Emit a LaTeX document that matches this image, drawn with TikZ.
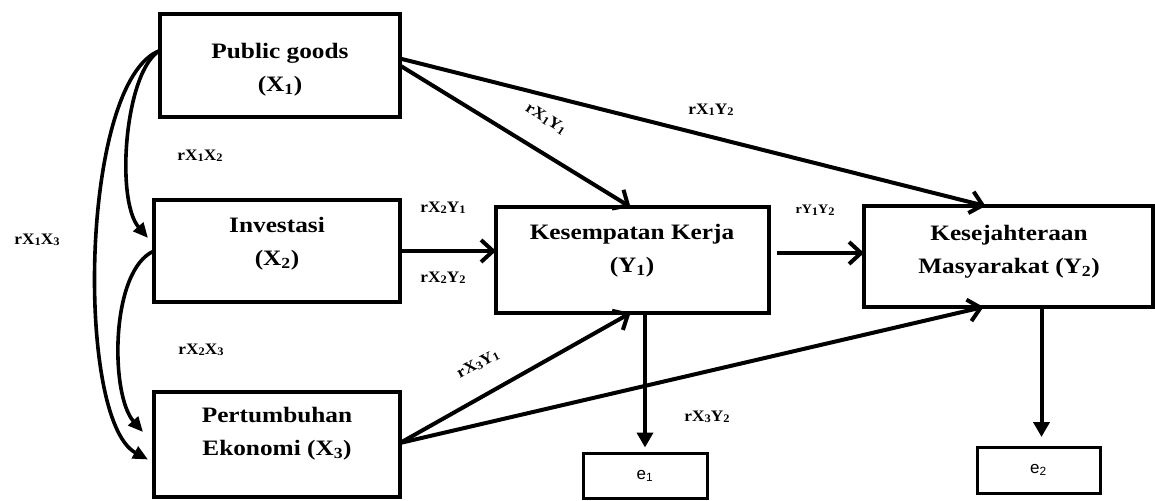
\documentclass[tikz,border=0pt]{standalone}
\usepackage{fontspec}
\newfontfamily\bxfont[FakeStretch=1.15]{Liberation Serif}
\newfontfamily\lbfont[FakeStretch=1.08]{Liberation Serif}
\newfontfamily\efont{Liberation Sans}
\newcommand\lsub[1]{\raisebox{-1.5pt}{\fontsize{11.5}{12}\selectfont #1}}
\usetikzlibrary{arrows.meta}
\tikzset{
  bx/.style={draw, line width=3.8pt, inner sep=0pt, outer sep=0pt},
  ebx/.style={draw, line width=3pt, inner sep=0pt, outer sep=0pt, minimum width=124pt, minimum height=45pt, font=\efont\fontsize{17}{19}\selectfont},
  btxt/.style={font=\bxfont\bfseries\fontsize{22}{33}\selectfont, align=center, inner sep=0pt},
  lbl/.style={font=\lbfont\bfseries\fontsize{16}{18}\selectfont, inner sep=1pt},
  rlbl/.style={font=\lbfont\bfseries\fontsize{16}{18}\selectfont, inner sep=1pt},
  slbl/.style={font=\lbfont\bfseries\fontsize{13}{15}\selectfont, inner sep=1pt},
  conn/.style={line width=4pt, -{Straight Barb[length=12pt,width=22pt,line width=4pt]}},
  econn/.style={line width=4pt, -{Triangle[length=15pt,width=16pt]}},
  curv/.style={line width=3.6pt, -{Triangle[length=15pt,width=13pt]}}
}
\begin{document}
\begin{tikzpicture}[x=1pt,y=-1pt]
\useasboundingbox (0,0) rectangle (1155,500);
% boxes
\node[bx, minimum width=240pt, minimum height=103pt] (x1) at (280,65.5) {};
\node[bx, minimum width=246pt, minimum height=102pt] (x2) at (277,251) {};
\node[bx, minimum width=246pt, minimum height=105pt] (x3) at (277,444.5) {};
\node[bx, minimum width=273pt, minimum height=106pt] (y1) at (632.5,260) {};
\node[bx, minimum width=289pt, minimum height=101pt] (y2) at (1008.5,256.5) {};
\node[ebx] (e1) at (645,476) {e\textsubscript{1}};
\node[ebx, minimum width=123pt, minimum height=46pt] (e2) at (1038.5,470) {e\textsubscript{2}};
% box texts
\node[btxt] (x1t) at (280,70) {Public goods\\(X\textsubscript{1})};
\node[btxt] (x2t) at (277,244) {Investasi\\(X\textsubscript{2})};
\node[btxt] (x3t) at (277,434) {Pertumbuhan\\Ekonomi (X\textsubscript{3})};
\node[btxt] (y1t) at (632,251) {Kesempatan Kerja\\(Y\textsubscript{1})};
\node[btxt] (y2t) at (1009,252) {Kesejahteraan\\Masyarakat (Y\textsubscript{2})};
% curved correlations
\draw[curv] ([yshift=15pt]x1.west) .. controls (125,70) and (115,200) .. ([xshift=-6pt,yshift=13pt]x2.west);
\draw[curv] ([yshift=15pt]x1.west) .. controls (80,80) and (75,420) .. ([xshift=-6pt,yshift=-15pt]x3.west);
\draw[curv] (x2.west) .. controls (110,270) and (110,395) .. ([xshift=-11pt,yshift=12.5pt]x3.west);
% straight paths
\draw[conn] (x1.east) -- ([xshift=-2pt]y1.north);
\draw[conn] ([yshift=7pt]x1.east) -- ([xshift=-23pt]y2.north);
\draw[conn] (x2.east) -- (x2.east -| y1.west);
\draw[conn, shorten <=8pt] ([yshift=7pt]y1.east) -- ([yshift=7pt]y1.east -| y2.west);
\draw[conn] ([yshift=1.5pt]x3.east) -- ([xshift=-2pt]y1.south);
\draw[conn] ([yshift=1.5pt]x3.east) -- ([xshift=-25pt]y2.south);
\draw[econn, shorten >=6pt] (y1.south -| e1.north) -- (e1.north);
\draw[econn, shorten >=10pt] ([xshift=3pt]y2.south -| e2.north) -- ([xshift=3pt]e2.north);
% labels
\node[lbl] (l12) at (200,156) {rX\lsub{1}X\lsub{2}};
\node[lbl] (l13) at (37,240) {rX\lsub{1}X\lsub{3}};
\node[lbl] (l23) at (201,350) {rX\lsub{2}X\lsub{3}};
\node[rlbl, rotate=-33] (l1y1) at (546,119) {rX\lsub{1}Y\lsub{1}};
\node[lbl] (l1y2) at (711,110) {rX\lsub{1}Y\lsub{2}};
\node[lbl] (l2y1) at (443,208) {rX\lsub{2}Y\lsub{1}};
\node[lbl] (l2y2) at (443,278) {rX\lsub{2}Y\lsub{2}};
\node[slbl] (ly1y2) at (815,210) {rY\lsub{1}Y\lsub{2}};
\node[rlbl, rotate=27] (l3y1) at (478,364) {rX\lsub{3}Y\lsub{1}};
\node[lbl] (l3y2) at (707,417) {rX\lsub{3}Y\lsub{2}};
\end{tikzpicture}
\end{document}
